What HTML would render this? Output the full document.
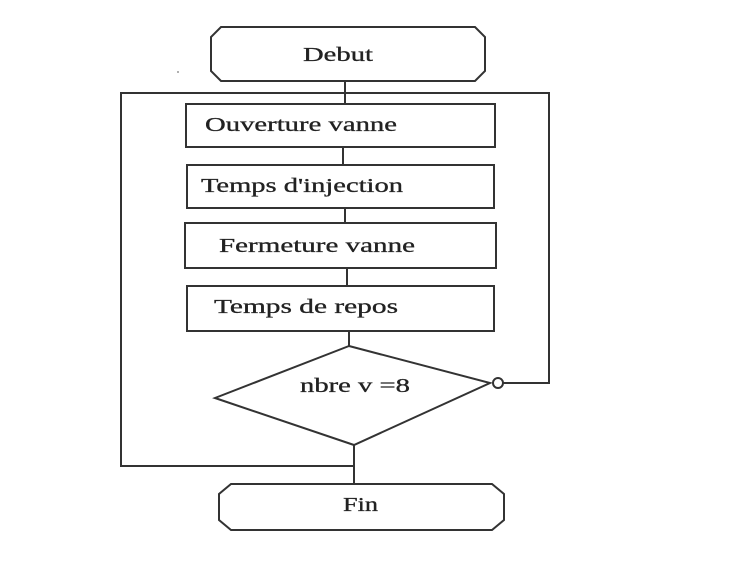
<!DOCTYPE html>
<html><head><style>html,body{margin:0;padding:0;background:#fff;}svg{display:block}</style></head>
<body>
<svg width="750" height="582" viewBox="0 0 750 582" xmlns="http://www.w3.org/2000/svg">
<g fill="none" stroke="#333" stroke-width="2">
<polygon points="221,27 475,27 485,37 485,71 475,81 221,81 211,71 211,37"/>
<line x1="345" y1="81" x2="345" y2="104"/>
<polyline points="120,93 549,93 549,383 503,383"/>
<polyline points="121,93 121,466 354,466"/>
<rect x="186" y="104" width="309" height="43"/>
<line x1="343" y1="147" x2="343" y2="165"/>
<rect x="187" y="165" width="307" height="43"/>
<line x1="345" y1="208" x2="345" y2="222"/>
<rect x="185" y="223" width="311" height="45"/>
<line x1="347" y1="268" x2="347" y2="286"/>
<rect x="187" y="286" width="307" height="45"/>
<line x1="349" y1="331" x2="349" y2="346"/>
<polygon points="349,346 490,383 354,445 215,398"/>
<circle cx="498" cy="383" r="5" fill="#fff"/>
<line x1="354" y1="445" x2="354" y2="484"/>
<polygon points="231,484 492,484 504,494 504,520 492,530 231,530 219,520 219,494"/>
</g>
<circle cx="178" cy="72" r="1" fill="#999"/>
<g font-family="Liberation Serif, serif" font-size="20" fill="#222" stroke="#222" stroke-width="0.3">
<text x="303" y="61" textLength="70" lengthAdjust="spacingAndGlyphs">Debut</text>
<text x="205" y="131" textLength="192" lengthAdjust="spacingAndGlyphs">Ouverture vanne</text>
<text x="201" y="192" textLength="202" lengthAdjust="spacingAndGlyphs">Temps d'injection</text>
<text x="219" y="252" textLength="196" lengthAdjust="spacingAndGlyphs">Fermeture vanne</text>
<text x="214" y="313" textLength="184" lengthAdjust="spacingAndGlyphs">Temps de repos</text>
<text x="300" y="392" textLength="110" lengthAdjust="spacingAndGlyphs">nbre v =8</text>
<text x="343" y="511" textLength="35" lengthAdjust="spacingAndGlyphs">Fin</text>
</g>
</svg>
</body></html>
